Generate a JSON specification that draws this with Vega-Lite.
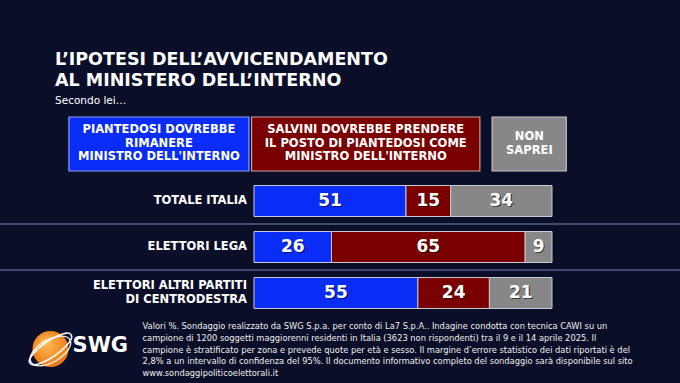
{
  "$schema": "https://vega.github.io/schema/vega-lite/v6.json",
  "autosize": {"type": "none"},
  "width": 298,
  "height": 266,
  "padding": {"left": 254, "right": 128, "top": 117, "bottom": 0},
  "background": "#0b0e28",
  "config": {"view": {"stroke": null}, "text": {"font": "DejaVu Sans"}},
  "title": {
    "text": ["L’IPOTESI DELL’AVVICENDAMENTO", "AL MINISTERO DELL’INTERNO"],
    "subtitle": "Secondo lei…",
    "anchor": "start",
    "frame": "group",
    "dx": -199,
    "offset": 10,
    "font": "DejaVu Sans",
    "fontSize": 17.5,
    "fontWeight": "bold",
    "color": "#ffffff",
    "lineHeight": 21,
    "subtitleFont": "DejaVu Sans",
    "subtitleFontSize": 10.5,
    "subtitleColor": "#ffffff",
    "subtitlePadding": 6
  },
  "datasets": {
    "risultati": [
      {"gruppo": "TOTALE ITALIA", "risposta": "PIANTEDOSI DOVREBBE\nRIMANERE\nMINISTRO DELL'INTERNO", "ordine": 1, "valore": 51},
      {"gruppo": "TOTALE ITALIA", "risposta": "SALVINI DOVREBBE PRENDERE\nIL POSTO DI PIANTEDOSI COME\nMINISTRO DELL'INTERNO", "ordine": 2, "valore": 15},
      {"gruppo": "TOTALE ITALIA", "risposta": "NON\nSAPREI", "ordine": 3, "valore": 34},
      {"gruppo": "ELETTORI LEGA", "risposta": "PIANTEDOSI DOVREBBE\nRIMANERE\nMINISTRO DELL'INTERNO", "ordine": 1, "valore": 26},
      {"gruppo": "ELETTORI LEGA", "risposta": "SALVINI DOVREBBE PRENDERE\nIL POSTO DI PIANTEDOSI COME\nMINISTRO DELL'INTERNO", "ordine": 2, "valore": 65},
      {"gruppo": "ELETTORI LEGA", "risposta": "NON\nSAPREI", "ordine": 3, "valore": 9},
      {"gruppo": "ELETTORI ALTRI PARTITI\nDI CENTRODESTRA", "risposta": "PIANTEDOSI DOVREBBE\nRIMANERE\nMINISTRO DELL'INTERNO", "ordine": 1, "valore": 55},
      {"gruppo": "ELETTORI ALTRI PARTITI\nDI CENTRODESTRA", "risposta": "SALVINI DOVREBBE PRENDERE\nIL POSTO DI PIANTEDOSI COME\nMINISTRO DELL'INTERNO", "ordine": 2, "valore": 24},
      {"gruppo": "ELETTORI ALTRI PARTITI\nDI CENTRODESTRA", "risposta": "NON\nSAPREI", "ordine": 3, "valore": 21}
    ],
    "legenda": [
      {"risposta": "PIANTEDOSI DOVREBBE\nRIMANERE\nMINISTRO DELL'INTERNO"},
      {"risposta": "SALVINI DOVREBBE PRENDERE\nIL POSTO DI PIANTEDOSI COME\nMINISTRO DELL'INTERNO"},
      {"risposta": "NON\nSAPREI"}
    ],
    "gruppi": [
      {"gruppo": "TOTALE ITALIA"},
      {"gruppo": "ELETTORI LEGA"},
      {"gruppo": "ELETTORI ALTRI PARTITI\nDI CENTRODESTRA"}
    ],
    "nota": [
      {"testo": "Valori %. Sondaggio realizzato da SWG S.p.a. per conto di La7 S.p.A.. Indagine condotta con tecnica CAWI su un\ncampione di 1200 soggetti maggiorenni residenti in Italia (3623 non rispondenti) tra il 9 e il 14 aprile 2025. Il\ncampione è stratificato per zona e prevede quote per età e sesso. Il margine d’errore statistico dei dati riportati è del\n2,8% a un intervallo di confidenza del 95%. Il documento informativo completo del sondaggio sarà disponibile sul sito\nwww.sondaggipoliticoelettorali.it", "marchio": "SWG"}
    ]
  },
  "layer": [
    {
      "data": {"name": "gruppi"},
      "transform": [{"filter": "datum.gruppo != 'TOTALE ITALIA'"}],
      "mark": {"type": "rule", "stroke": "#474b6b", "strokeWidth": 2, "yOffset": -23},
      "encoding": {
        "y": {"field": "gruppo", "type": "nominal", "axis": null,
              "scale": {"domain": ["LEGENDA", "TOTALE ITALIA", "ELETTORI LEGA", "ELETTORI ALTRI PARTITI\nDI CENTRODESTRA", "NOTA"], "paddingInner": 0.326, "paddingOuter": 0.5544, "align": 0.441}},
        "x": {"datum": -85.4, "type": "quantitative", "axis": null, "scale": {"domain": [0, 100], "nice": false, "zero": false}},
        "x2": {"datum": 143}
      }
    },
    {
      "data": {"name": "legenda"},
      "transform": [{"filter": "datum.risposta == 'NON\\nSAPREI'"}],
      "layer": [
        {
          "mark": {"type": "bar", "height": 54, "yOffset": -11, "stroke": "#c4c4c4", "strokeWidth": 1.2},
          "encoding": {
            "y": {"datum": "LEGENDA", "type": "nominal"},
            "x": {"datum": 79.9, "type": "quantitative"},
            "x2": {"datum": 104.8},
            "color": {"field": "risposta", "type": "nominal", "legend": null}
          }
        },
        {
          "mark": {"type": "text", "yOffset": -17.75, "lineBreak": "\n", "fontWeight": "bold", "fontSize": 11.5, "lineHeight": 13.5, "color": "#ffffff", "align": "center", "baseline": "middle"},
          "encoding": {
            "y": {"datum": "LEGENDA", "type": "nominal"},
            "x": {"datum": 92.4, "type": "quantitative"},
            "text": {"field": "risposta"}
          }
        }
      ]
    },
    {
      "data": {"name": "legenda"},
      "transform": [{"filter": "indexof(datum.risposta, 'SALVINI') == 0"}],
      "layer": [
        {
          "mark": {"type": "bar", "height": 54, "yOffset": -11, "stroke": "#c9a4a4", "strokeWidth": 1.2},
          "encoding": {
            "y": {"datum": "LEGENDA", "type": "nominal"},
            "x": {"datum": -0.8, "type": "quantitative"},
            "x2": {"datum": 75.8},
            "color": {"field": "risposta", "type": "nominal", "legend": null}
          }
        },
        {
          "mark": {"type": "text", "yOffset": -24.5, "lineBreak": "\n", "fontWeight": "bold", "fontSize": 11.5, "lineHeight": 13.5, "color": "#ffffff", "align": "center", "baseline": "middle"},
          "encoding": {
            "y": {"datum": "LEGENDA", "type": "nominal"},
            "x": {"datum": 37.5, "type": "quantitative"},
            "text": {"field": "risposta"}
          }
        }
      ]
    },
    {
      "data": {"name": "legenda"},
      "transform": [{"filter": "indexof(datum.risposta, 'PIANTEDOSI') == 0"}],
      "layer": [
        {
          "mark": {"type": "bar", "height": 54, "yOffset": -11, "stroke": "#8fa0ff", "strokeWidth": 1.2},
          "encoding": {
            "y": {"datum": "LEGENDA", "type": "nominal"},
            "x": {"datum": -62.1, "type": "quantitative"},
            "x2": {"datum": -1.7},
            "color": {"field": "risposta", "type": "nominal", "legend": null}
          }
        },
        {
          "mark": {"type": "text", "yOffset": -24.5, "lineBreak": "\n", "fontWeight": "bold", "fontSize": 11.5, "lineHeight": 13.5, "color": "#ffffff", "align": "center", "baseline": "middle"},
          "encoding": {
            "y": {"datum": "LEGENDA", "type": "nominal"},
            "x": {"datum": -31.9, "type": "quantitative"},
            "text": {"field": "risposta"}
          }
        }
      ]
    },
    {
      "data": {"name": "risultati"},
      "mark": {"type": "bar", "stroke": "#c8cad6", "strokeWidth": 1},
      "encoding": {
        "y": {"field": "gruppo", "type": "nominal"},
        "x": {"field": "valore", "type": "quantitative", "stack": "zero"},
        "color": {"field": "risposta", "type": "nominal", "legend": null,
                  "scale": {"domain": ["PIANTEDOSI DOVREBBE\nRIMANERE\nMINISTRO DELL'INTERNO", "SALVINI DOVREBBE PRENDERE\nIL POSTO DI PIANTEDOSI COME\nMINISTRO DELL'INTERNO", "NON\nSAPREI"], "range": ["#0a2cf7", "#7a0000", "#878787"]}},
        "order": {"field": "ordine"}
      }
    },
    {
      "data": {"name": "risultati"},
      "mark": {"type": "text", "fontWeight": "bold", "fontSize": 17, "color": "#000000", "opacity": 0.55, "dx": 1.2, "dy": 1.2, "baseline": "middle", "align": "center"},
      "encoding": {
        "y": {"field": "gruppo", "type": "nominal"},
        "x": {"field": "valore", "type": "quantitative", "stack": "zero", "bandPosition": 0.5},
        "order": {"field": "ordine"},
        "text": {"field": "valore"}
      }
    },
    {
      "data": {"name": "risultati"},
      "mark": {"type": "text", "fontWeight": "bold", "fontSize": 17, "color": "#ffffff", "baseline": "middle", "align": "center"},
      "encoding": {
        "y": {"field": "gruppo", "type": "nominal"},
        "x": {"field": "valore", "type": "quantitative", "stack": "zero", "bandPosition": 0.5},
        "order": {"field": "ordine"},
        "text": {"field": "valore"}
      }
    },
    {
      "data": {"name": "gruppi"},
      "transform": [{"filter": "indexof(datum.gruppo, '\\n') < 0"}],
      "mark": {"type": "text", "fontWeight": "bold", "fontSize": 11.5, "color": "#ffffff", "align": "right", "baseline": "middle", "dx": -7},
      "encoding": {
        "y": {"field": "gruppo", "type": "nominal"},
        "x": {"datum": 0, "type": "quantitative"},
        "text": {"field": "gruppo"}
      }
    },
    {
      "data": {"name": "gruppi"},
      "transform": [{"filter": "indexof(datum.gruppo, '\\n') >= 0"}],
      "mark": {"type": "text", "fontWeight": "bold", "fontSize": 11.5, "lineHeight": 14, "lineBreak": "\n", "color": "#ffffff", "align": "right", "baseline": "middle", "dx": -7, "yOffset": -7},
      "encoding": {
        "y": {"field": "gruppo", "type": "nominal"},
        "x": {"datum": 0, "type": "quantitative"},
        "text": {"field": "gruppo"}
      }
    },
    {
      "data": {"name": "nota"},
      "mark": {"type": "text", "fontSize": 8.3, "lineHeight": 11.8, "lineBreak": "\n", "color": "#eeeeee", "align": "left", "baseline": "middle", "yOffset": -12},
      "encoding": {
        "y": {"datum": "NOTA", "type": "nominal"},
        "x": {"datum": -37.4, "type": "quantitative"},
        "text": {"field": "testo"}
      }
    },
    {
      "data": {"name": "nota"},
      "mark": {"type": "point", "filled": true, "opacity": 1, "size": 1300, "yOffset": 10, "strokeWidth": 0,
               "fill": {"gradient": "radial", "x1": 0.35, "y1": 0.3, "x2": 0.5, "y2": 0.5, "r1": 0, "r2": 0.6,
                        "stops": [{"offset": 0, "color": "#ffc05a"}, {"offset": 1, "color": "#e8700c"}]}},
      "encoding": {
        "y": {"datum": "NOTA", "type": "nominal"},
        "x": {"datum": -68.3, "type": "quantitative"}
      }
    },
    {
      "data": {"name": "nota"},
      "mark": {"type": "point", "filled": false, "opacity": 0.95, "size": 2500, "yOffset": 10, "stroke": "#ffffff", "strokeWidth": 1.6,
               "shape": "M -0.82 0.57 A 1 0.3 -35 1 1 0.82 -0.57 A 1 0.3 -35 1 1 -0.82 0.57 Z"},
      "encoding": {
        "y": {"datum": "NOTA", "type": "nominal"},
        "x": {"datum": -68.3, "type": "quantitative"}
      }
    },
    {
      "data": {"name": "nota"},
      "mark": {"type": "point", "filled": false, "opacity": 0.9, "size": 2000, "yOffset": 12, "stroke": "#ffffff", "strokeWidth": 1.4,
               "shape": "M -0.87 0.5 A 1 0.5 -30 1 1 0.87 -0.5 A 1 0.5 -30 1 1 -0.87 0.5 Z"},
      "encoding": {
        "y": {"datum": "NOTA", "type": "nominal"},
        "x": {"datum": -68.3, "type": "quantitative"}
      }
    },
    {
      "data": {"name": "nota"},
      "mark": {"type": "text", "fontSize": 21, "fontWeight": "bold", "color": "#ffffff", "align": "left", "baseline": "alphabetic", "yOffset": 13},
      "encoding": {
        "y": {"datum": "NOTA", "type": "nominal"},
        "x": {"datum": -60.9, "type": "quantitative"},
        "text": {"field": "marchio"}
      }
    }
  ]
}
